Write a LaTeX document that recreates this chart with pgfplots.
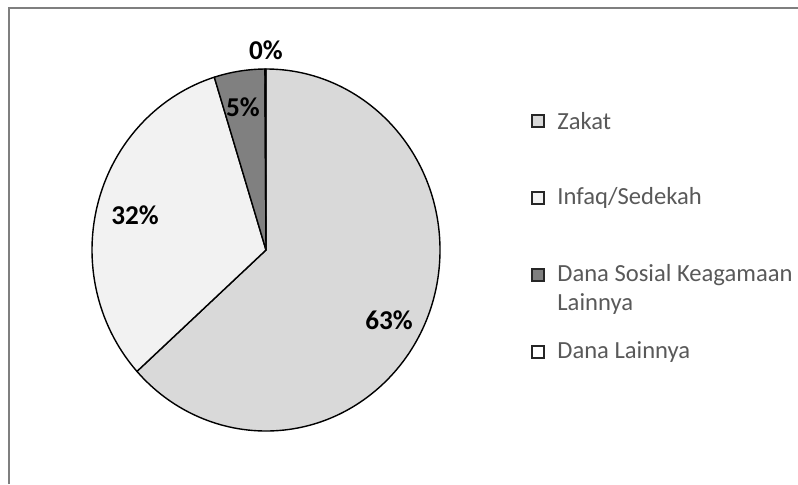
\documentclass[border=0pt]{standalone}
\usepackage{pgfplots}
\pgfplotsset{compat=1.18}
\usepackage{pgfplotstable}
\usepackage{fontspec}
\setmainfont{Carlito}
\definecolor{cZakat}{HTML}{D9D9D9}
\definecolor{cInfaq}{HTML}{F2F2F2}
\definecolor{cSosial}{HTML}{808080}
\definecolor{cLain}{HTML}{FFFFFF}
\definecolor{legtext}{HTML}{595959}
\definecolor{framec}{HTML}{7F7F7F}

\pgfplotstableread{
value color
63.3 cZakat
31.9 cInfaq
4.7 cSosial
0.1 cLain
}\piedata

\begin{document}
\begin{tikzpicture}[x=0.5pt,y=0.5pt]
\useasboundingbox (0,0) rectangle (798,484);
\begin{axis}[at={(0,0)}, anchor=south west, scale only axis, x=0.5pt, y=0.5pt,
  xmin=0, xmax=798, ymin=0, ymax=484, hide axis, clip=false]
\pgfplotstablegetrowsof{\piedata}
\pgfmathtruncatemacro\N{\pgfplotsretval-1}
\gdef\cum{0}
\pgfplotsforeachungrouped \i in {0,...,\N}{%
  \pgfplotstablegetelem{\i}{value}\of\piedata
  \let\v\pgfplotsretval
  \pgfplotstablegetelem{\i}{color}\of\piedata
  \let\c\pgfplotsretval
  \pgfmathsetmacro\a{90-3.6*\cum}
  \pgfmathsetmacro\b{90-3.6*(\cum+\v)}
  \pgfmathsetmacro\cumnew{\cum+\v}
  \global\let\cum\cumnew
  \edef\temp{\noexpand\filldraw[fill=\c, draw=black, line width=0.7pt, line join=round]
    (axis cs:266,234) -- ++(\a:87pt and 90.5pt)
    arc[start angle=\a, end angle=\b, x radius=87pt, y radius=90.5pt] -- cycle;}
  \temp
}
% slice labels
\begin{scope}[every node/.style={font=\bfseries\fontsize{13.6}{15}\selectfont}]
\node at (axis cs:266,434) {0\%};
\node at (axis cs:243,377) {5\%};
\node at (axis cs:135,269) {32\%};
\node at (axis cs:389,164) {63\%};
\end{scope}
% legend
\begin{scope}[every path/.style={draw=black!85, line width=1pt}]
\filldraw[fill=cZakat] (axis cs:532,357) rectangle (axis cs:544,369);
\filldraw[fill=cInfaq] (axis cs:532,280) rectangle (axis cs:544,292);
\filldraw[fill=cSosial] (axis cs:532,203) rectangle (axis cs:544,215);
\filldraw[fill=cLain] (axis cs:532,126) rectangle (axis cs:544,138);
\end{scope}
\begin{scope}[every node/.style={anchor=west, inner sep=0pt, text=legtext, font=\fontsize{12.3}{14}\selectfont}]
\node at (axis cs:557,363) {Zakat};
\node at (axis cs:557,286) {Infaq/Sedekah};
\node at (axis cs:557,209) {Dana Sosial Keagamaan};
\node at (axis cs:557,180) {Lainnya};
\node at (axis cs:557,132) {Dana Lainnya};
\end{scope}
% chart frame
\draw[framec, line width=1pt] (axis cs:9,0) -- (axis cs:9,476) -- (axis cs:798,476);
\end{axis}
\end{tikzpicture}
\end{document}
